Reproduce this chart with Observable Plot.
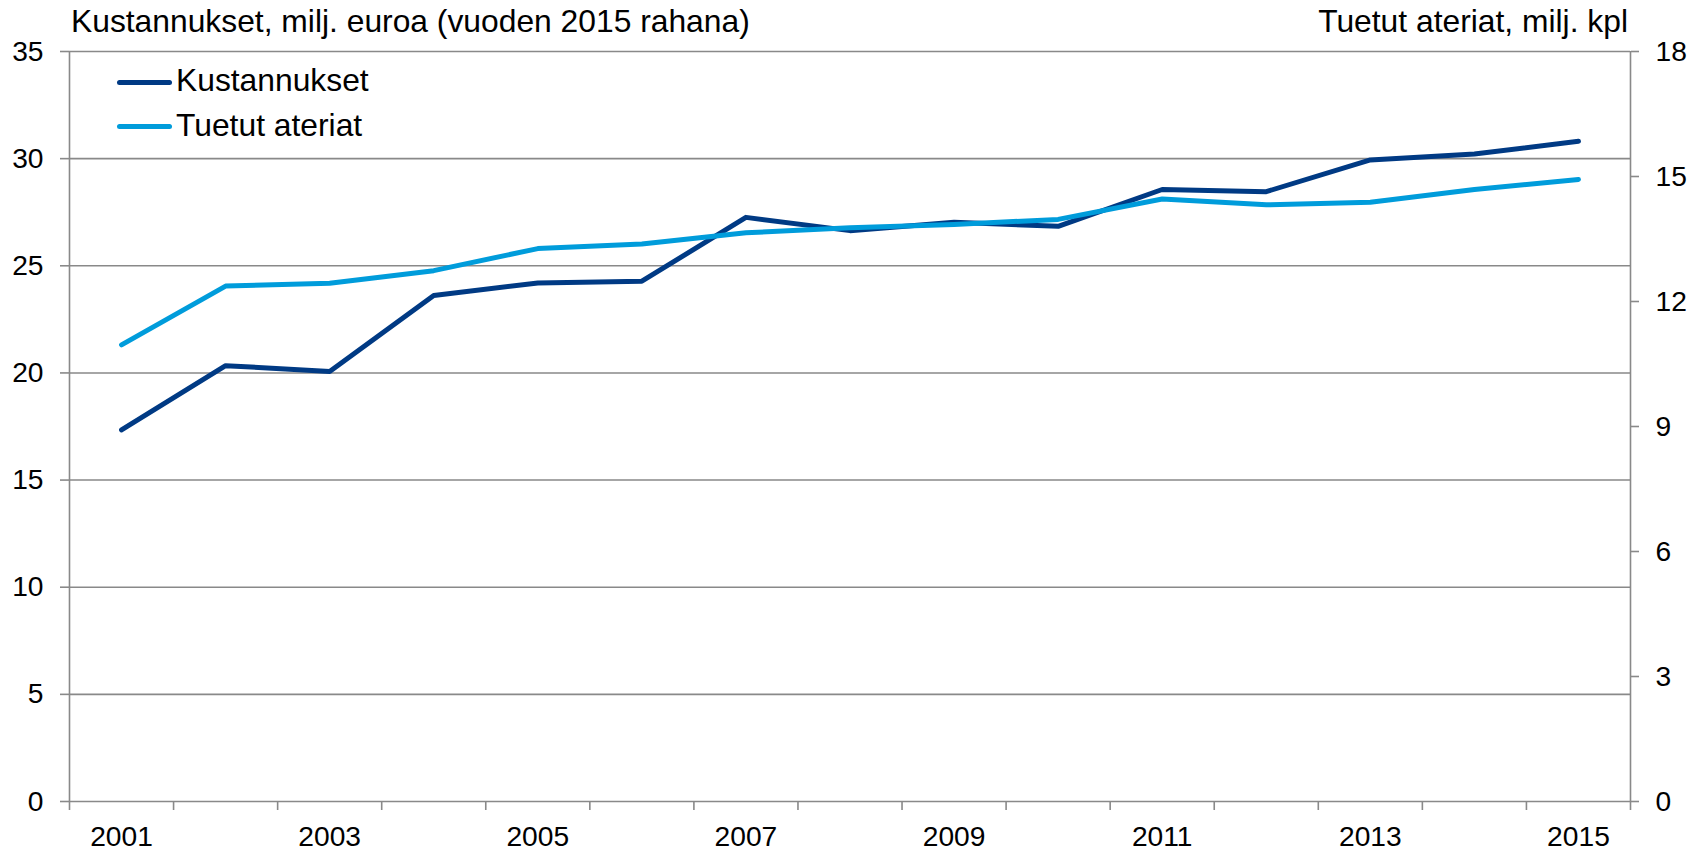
<!DOCTYPE html>
<html>
<head>
<meta charset="utf-8">
<script src="https://cdn.jsdelivr.net/npm/d3@7"></script>
<script src="https://cdn.jsdelivr.net/npm/@observablehq/plot@0.6"></script>
<style>
  body { margin: 0; background: #fff; }
  #wrap { position: relative; width: 1705px; height: 852px; font-family: "Liberation Sans", Arial, sans-serif; color: #000; }
  .t { position: absolute; font-size: 31.8px; line-height: 31.8px; white-space: nowrap; }
  .sw { position: absolute; width: 55px; height: 5px; border-radius: 2.5px; }
  svg { display: block; }
</style>
</head>
<body>
<div id="wrap"></div>
<script>
const years = [2001, 2002, 2003, 2004, 2005, 2006, 2007, 2008, 2009, 2010, 2011, 2012, 2013, 2014, 2015];
const kustannukset = [17.34, 20.34, 20.07, 23.61, 24.20, 24.28, 27.26, 26.64, 27.03, 26.84, 28.56, 28.46, 29.94, 30.22, 30.81];
const ateriat = [10.96, 12.37, 12.44, 12.74, 13.27, 13.38, 13.65, 13.77, 13.85, 13.97, 14.46, 14.32, 14.38, 14.69, 14.93];
const leftTicks = [0, 5, 10, 15, 20, 25, 30, 35];
const rightTicks = [0, 3, 6, 9, 12, 15, 18];
const xLabels = [2001, 2003, 2005, 2007, 2009, 2011, 2013, 2015];
const leftTitle = "Kustannukset, milj. euroa (vuoden 2015 rahana)";
const rightTitle = "Tuetut ateriat, milj. kpl";
const seriesNames = ["Kustannukset", "Tuetut ateriat"];
const colors = ["#003a84", "#009cdb"];

const leftMax = 35, rightMax = 18;
const toLeft = v => v * leftMax / rightMax;
const boundaries = d3.range(years.length + 1).map(i => years[0] - 0.5 + i);
const gray = "#898989";

const dataK = years.map((y, i) => ({year: y, v: kustannukset[i]}));
const dataA = years.map((y, i) => ({year: y, v: ateriat[i]}));

const chart = Plot.plot({
  width: 1705,
  height: 852,
  marginLeft: 69,
  marginRight: 75,
  marginTop: 51,
  marginBottom: 51,
  style: {fontFamily: "'Liberation Sans', Arial, sans-serif", fontSize: "28px", color: "#000", background: "#fff"},
  x: {type: "linear", domain: [boundaries[0], boundaries[boundaries.length - 1]], label: null},
  y: {domain: [0, leftMax], label: null},
  marks: [
    Plot.ruleY(leftTicks, {stroke: gray, strokeWidth: 1.6}),
    Plot.ruleX([boundaries[0], boundaries[boundaries.length - 1]], {stroke: gray, strokeWidth: 1.6}),
    Plot.axisY({anchor: "left", ticks: leftTicks, tickSize: 9, tickPadding: 17, stroke: gray, strokeWidth: 1.6, fill: "#000", fontSize: 28.2, label: null, tickFormat: d => String(d)}),
    Plot.axisY({anchor: "right", ticks: rightTicks.map(toLeft), tickSize: 8, tickPadding: 17, stroke: gray, strokeWidth: 1.6, fill: "#000", fontSize: 28.2, label: null, tickFormat: d => String(Math.round(d * rightMax / leftMax))}),
    Plot.axisX({ticks: boundaries, tickSize: 9, stroke: gray, strokeWidth: 1.6, tickFormat: () => "", label: null}),
    Plot.axisX({ticks: xLabels, tickSize: 0, tickPadding: 24, fill: "#000", fontSize: 28.2, tickFormat: d => String(d), label: null}),
    Plot.line(dataK, {x: "year", y: "v", stroke: colors[0], strokeWidth: 5, strokeLinecap: "round", strokeLinejoin: "round"}),
    Plot.line(dataA, {x: "year", y: d => toLeft(d.v), stroke: colors[1], strokeWidth: 5, strokeLinecap: "round", strokeLinejoin: "round"})
  ]
});

const wrap = document.getElementById("wrap");
wrap.appendChild(chart);

function addText(txt, css) {
  const d = document.createElement("div");
  d.className = "t";
  d.textContent = txt;
  Object.assign(d.style, css);
  wrap.appendChild(d);
}
function addSwatch(color, css) {
  const d = document.createElement("div");
  d.className = "sw";
  d.style.background = color;
  Object.assign(d.style, css);
  wrap.appendChild(d);
}
addText(leftTitle, {left: "71px", top: "6px"});
addText(rightTitle, {right: "77px", top: "6px"});
addSwatch(colors[0], {left: "117px", top: "79.5px"});
addText(seriesNames[0], {left: "176px", top: "65px"});
addSwatch(colors[1], {left: "117px", top: "123.5px"});
addText(seriesNames[1], {left: "176px", top: "110px"});
</script>
</body>
</html>
